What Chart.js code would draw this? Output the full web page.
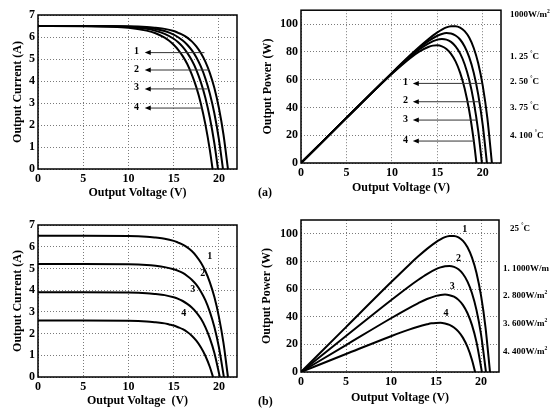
<!DOCTYPE html>
<html>
<head>
<meta charset="utf-8">
<script src="https://cdn.jsdelivr.net/npm/chart.js@4.4.0/dist/chart.umd.min.js"></script>
<style>
  body { margin: 0; background: #fff; width: 550px; height: 412px; position: relative; overflow: hidden; }
  canvas { position: absolute; }
  .tag { position: absolute; font: bold 12px "Liberation Serif", serif; color: #000; }
</style>
</head>
<body>
<canvas id="tl"></canvas>
<canvas id="tr"></canvas>
<canvas id="bl"></canvas>
<canvas id="br"></canvas>
<div class="tag" style="left:258px; top:185px">(a)</div>
<div class="tag" style="left:258px; top:394px">(b)</div>
<script>
// (a) temperature sweep at 1000 W/m2, curve 1..4 = 25, 50, 75, 100 C
const voltsT1 = [0, 5, 10, 12, 13, 14, 15, 15.5, 16, 16.5, 17, 17.5, 18, 18.5, 19, 19.5, 20, 20.5, 21];
const ampsT1 = [6.50, 6.50, 6.49, 6.46, 6.42, 6.37, 6.27, 6.19, 6.10, 5.97, 5.80, 5.57, 5.27, 4.88, 4.36, 3.68, 2.77, 1.58, 0];
const wattsT1 = [0, 32.5, 64.9, 77.5, 83.5, 89.1, 94.0, 96.0, 97.6, 98.4, 98.5, 97.5, 94.9, 90.3, 82.8, 71.7, 55.4, 32.3, 0];

const voltsT2 = [0, 5, 10, 12, 13, 14, 15, 15.5, 16, 16.5, 17, 17.5, 18, 18.5, 19, 19.5, 20, 20.45];
const ampsT2 = [6.50, 6.50, 6.47, 6.42, 6.36, 6.27, 6.11, 5.99, 5.84, 5.65, 5.40, 5.08, 4.66, 4.12, 3.42, 2.52, 1.35, 0];
const wattsT2 = [0, 32.5, 64.7, 77.0, 82.7, 87.7, 91.6, 92.9, 93.5, 93.3, 91.8, 88.9, 83.9, 76.2, 65.0, 49.1, 26.9, 0];

const voltsT3 = [0, 5, 10, 12, 13, 14, 15, 15.5, 16, 16.5, 17, 17.5, 18, 18.5, 19, 19.5, 19.9];
const ampsT3 = [6.50, 6.50, 6.45, 6.37, 6.28, 6.14, 5.92, 5.76, 5.55, 5.28, 4.94, 4.51, 3.95, 3.24, 2.33, 1.16, 0];
const wattsT3 = [0, 32.5, 64.5, 76.4, 81.7, 86.0, 88.8, 89.2, 88.8, 87.2, 84.0, 78.9, 71.1, 59.9, 44.2, 22.7, 0];

const voltsT4 = [0, 5, 10, 12, 13, 14, 14.5, 15, 15.5, 16, 16.5, 17, 17.5, 18, 18.5, 19, 19.3];
const ampsT4 = [6.50, 6.49, 6.42, 6.29, 6.17, 5.97, 5.83, 5.65, 5.42, 5.13, 4.77, 4.30, 3.72, 2.98, 2.04, 0.86, 0];
const wattsT4 = [0, 32.5, 64.2, 75.5, 80.2, 83.5, 84.5, 84.7, 84.0, 82.1, 78.6, 73.2, 65.1, 53.6, 37.8, 16.3, 0];

// (b) irradiance sweep at 25 C, curve 1..4 = 1000, 800, 600, 400 W/m2 (curve 1 same as T1)
const voltsG2 = [0, 5, 10, 12, 13, 14, 15, 15.5, 16, 16.5, 17, 17.5, 18, 18.5, 19, 19.5, 20, 20.55];
const ampsG2 = [5.20, 5.20, 5.19, 5.16, 5.12, 5.06, 4.96, 4.89, 4.79, 4.65, 4.48, 4.25, 3.94, 3.54, 3.00, 2.30, 1.37, 0];
const wattsG2 = [0, 26.0, 51.9, 61.9, 66.6, 70.9, 74.4, 75.7, 76.6, 76.8, 76.1, 74.3, 70.9, 65.4, 57.0, 44.8, 27.4, 0];

const voltsG3 = [0, 5, 10, 12, 13, 14, 15, 15.5, 16, 16.5, 17, 17.5, 18, 18.5, 19, 19.5, 20.1];
const ampsG3 = [3.90, 3.90, 3.89, 3.86, 3.82, 3.77, 3.67, 3.60, 3.50, 3.37, 3.20, 2.98, 2.69, 2.30, 1.78, 1.11, 0];
const wattsG3 = [0, 19.5, 38.9, 46.3, 49.7, 52.8, 55.1, 55.8, 56.0, 55.6, 54.5, 52.2, 48.4, 42.5, 33.9, 21.6, 0];

const voltsG4 = [0, 5, 10, 12, 13, 14, 14.5, 15, 15.5, 16, 16.5, 17, 17.5, 18, 18.5, 19, 19.35];
const ampsG4 = [2.60, 2.60, 2.59, 2.56, 2.52, 2.47, 2.42, 2.37, 2.29, 2.20, 2.07, 1.90, 1.67, 1.37, 0.98, 0.46, 0];
const wattsG4 = [0, 13.0, 25.9, 30.7, 32.8, 34.5, 35.2, 35.5, 35.6, 35.1, 34.1, 32.2, 29.2, 24.7, 18.1, 8.7, 0];

// curve numbers and arrows (data units): [label x, y, arrow head x, arrow tail x]
const curveTags = ['1', '2', '3', '4'];
const arrowsTL = [[10.9, 5.29, 11.8, 18.4], [10.9, 4.5, 11.8, 18.9], [10.9, 3.64, 11.8, 18.7], [10.9, 2.77, 11.8, 18.2]];
const arrowsTR = [[11.5, 57.3, 12.3, 19.9], [11.5, 44.1, 12.3, 19.7], [11.5, 30.9, 12.3, 19.3], [11.5, 15.8, 12.3, 19.1]];
const tagsBL = [[19.0, 5.53], [18.2, 4.79], [17.1, 4.05], [16.1, 2.95]];
const tagsBR = [[18.2, 103.5], [17.5, 82.5], [16.8, 62.2], [16.1, 42.7]];

// side notes, '^' marks a superscript character
const notesTemp = ['1000W/m^2', '1. 25 ^°C', '2. 50 ^°C', '3. 75 ^°C', '4. 100 ^°C'];
const notesIrr = ['25 ^°C', '1. 1000W/m', '2. 800W/m^2', '3. 600W/m^2', '4. 400W/m^2'];

const FONT = '"Liberation Serif", "Times New Roman", serif';
Chart.defaults.font.family = FONT;
Chart.defaults.font.weight = 'bold';
Chart.defaults.color = '#000';

function drawRich(ctx, x, y, text, size) {
    let cx = x;
    const parts = text.split('^');
    parts.forEach((p, k) => {
        if (k > 0 && p.length) {
            ctx.font = `bold ${size * 0.62}px ${FONT}`;
            ctx.fillText(p[0], cx, y - size * 0.38);
            cx += ctx.measureText(p[0]).width;
            p = p.slice(1);
        }
        ctx.font = `bold ${size}px ${FONT}`;
        ctx.fillText(p, cx, y);
        cx += ctx.measureText(p).width;
    });
}

function makePanel(id, g, curves, yMax, yStep, yTitle, xTitle, extras) {
    const cv = document.getElementById(id);
    cv.width = g.w;
    cv.height = g.h;
    cv.style.left = g.left + 'px';
    cv.style.top = g.top + 'px';

    const decor = {
        id: 'decor_' + id,
        afterDatasetsDraw(chart) {
            const { ctx, chartArea: a, scales } = chart;
            ctx.save();
            // frame
            ctx.strokeStyle = '#000';
            ctx.lineWidth = 1.5;
            ctx.strokeRect(a.left, a.top, a.right - a.left, a.bottom - a.top);
            ctx.fillStyle = '#000';
            ctx.textAlign = 'center';
            ctx.textBaseline = 'middle';
            ctx.font = `bold 10px ${FONT}`;
            (extras.arrows || []).forEach((r, i) => {
                const ly = scales.y.getPixelForValue(r[1]);
                const hx = scales.x.getPixelForValue(r[2]);
                const tx = scales.x.getPixelForValue(r[3]);
                ctx.fillText(curveTags[i], scales.x.getPixelForValue(r[0]), ly - 1);
                ctx.strokeStyle = '#333';
                ctx.lineWidth = 1;
                ctx.beginPath();
                ctx.moveTo(tx, ly);
                ctx.lineTo(hx + 4, ly);
                ctx.stroke();
                ctx.beginPath();
                ctx.moveTo(hx, ly);
                ctx.lineTo(hx + 6, ly - 2.5);
                ctx.lineTo(hx + 6, ly + 2.5);
                ctx.closePath();
                ctx.fill();
            });
            (extras.tags || []).forEach((r, i) => {
                ctx.fillText(curveTags[i], scales.x.getPixelForValue(r[0]), scales.y.getPixelForValue(r[1]));
            });
            ctx.restore();
        },
        afterDraw(chart) {
            if (!extras.notes) return;
            const ctx = chart.ctx;
            ctx.save();
            ctx.fillStyle = '#000';
            ctx.textAlign = 'left';
            ctx.textBaseline = 'middle';
            extras.notes.forEach((t, i) => drawRich(ctx, extras.noteX[i], extras.noteY[i], t, 9));
            ctx.restore();
        }
    };

    return new Chart(cv, {
        type: 'line',
        data: {
            datasets: curves.map(c => ({
                data: c[0].map((v, i) => ({ x: v, y: c[1][i] })),
                borderColor: '#000',
                borderWidth: 2,
                pointRadius: 0,
                fill: false,
                cubicInterpolationMode: 'monotone'
            }))
        },
        options: {
            responsive: false,
            animation: false,
            events: [],
            layout: { padding: { left: g.padL, top: g.padT, right: g.padR, bottom: 0 } },
            plugins: { legend: { display: false }, tooltip: { enabled: false } },
            scales: {
                x: {
                    type: 'linear', min: 0, max: 22,
                    ticks: { stepSize: 5, includeBounds: false, padding: 3, font: { size: 12 } },
                    grid: { color: '#7a7a7a', lineWidth: 1, drawTicks: false },
                    border: { display: false, dash: [1, 2] },
                    title: { display: true, text: xTitle, font: { size: 12 }, padding: { top: 0, bottom: g.xtPad } },
                    afterFit: s => { s.height = g.xH; }
                },
                y: {
                    type: 'linear', min: 0, max: yMax,
                    ticks: { stepSize: yStep, includeBounds: false, padding: 3, font: { size: 12 } },
                    grid: { color: '#7a7a7a', lineWidth: 1, drawTicks: false },
                    border: { display: false, dash: [1, 2] },
                    title: { display: true, text: yTitle, font: { size: 12 }, padding: { top: g.ytPad, bottom: 0 } },
                    afterFit: s => { s.width = g.yW; }
                }
            }
        },
        plugins: [decor]
    });
}

makePanel('tl', { left: 0, top: 0, w: 255, h: 206, padL: 11, padT: 15, padR: 18, yW: 27, xH: 37, xtPad: 6, ytPad: 0 },
    [[voltsT1, ampsT1], [voltsT2, ampsT2], [voltsT3, ampsT3], [voltsT4, ampsT4]],
    7, 1, 'Output Current (A)', 'Output Voltage (V)', { arrows: arrowsTL });

makePanel('tr', { left: 255, top: 0, w: 295, h: 206, padL: 0, padT: 10, padR: 49, yW: 46, xH: 43, xtPad: 11, ytPad: 6 },
    [[voltsT1, wattsT1], [voltsT2, wattsT2], [voltsT3, wattsT3], [voltsT4, wattsT4]],
    110, 20, 'Output Power (W)', 'Output Voltage (V)',
    { arrows: arrowsTR, notes: notesTemp, noteX: [255, 255, 255, 255, 255], noteY: [15, 57, 82, 108, 136] });

makePanel('bl', { left: 0, top: 206, w: 255, h: 206, padL: 11, padT: 19, padR: 18, yW: 27, xH: 35, xtPad: 4, ytPad: 0 },
    [[voltsT1, ampsT1], [voltsG2, ampsG2], [voltsG3, ampsG3], [voltsG4, ampsG4]],
    7, 1, 'Output Current (A)', 'Output Voltage  (V)', { tags: tagsBL });

makePanel('br', { left: 255, top: 206, w: 295, h: 206, padL: 0, padT: 14, padR: 51, yW: 46, xH: 40, xtPad: 7, ytPad: 5 },
    [[voltsT1, wattsT1], [voltsG2, wattsG2], [voltsG3, wattsG3], [voltsG4, wattsG4]],
    110, 20, 'Output Power (W)', 'Output Voltage (V)',
    { tags: tagsBR, notes: notesIrr, noteX: [255, 248, 248, 248, 248], noteY: [23, 63, 90, 118, 146] });
</script>
</body>
</html>
